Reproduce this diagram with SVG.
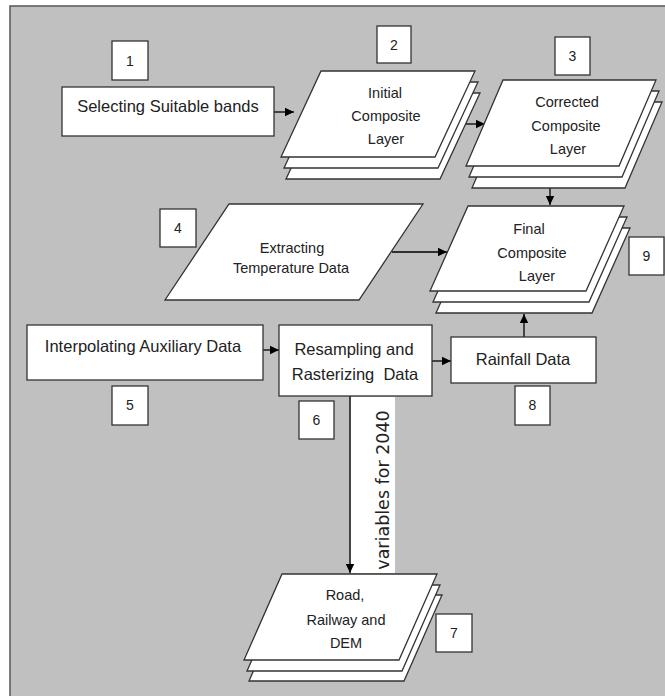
<svg xmlns="http://www.w3.org/2000/svg" xmlns:xlink="http://www.w3.org/1999/xlink" width="665" height="696" viewBox="0 0 665 696">
<style>
.bg{fill:#c0c0c0;stroke:#555;stroke-width:1.5}
.box{fill:#fff;stroke:#333;stroke-width:1.3}
.sheet{fill:#fff;stroke:#333;stroke-width:1.3;stroke-linejoin:miter}
.lbl{font-family:"Liberation Sans",Arial,sans-serif;font-size:16.5px;fill:#222;text-anchor:middle}
.pl{font-family:"Liberation Sans",Arial,sans-serif;font-size:14.5px;fill:#222;text-anchor:middle}
.num{font-family:"Liberation Sans",Arial,sans-serif;font-size:14px;fill:#222;text-anchor:middle}
.vt{font-family:"DejaVu Sans",Verdana,sans-serif;font-size:17.5px;fill:#222;text-anchor:middle}
.con{stroke:#000;stroke-width:1.3;fill:none;marker-end:url(#ah)}
</style>
<defs>
<marker id="ah" markerUnits="userSpaceOnUse" markerWidth="10" markerHeight="10" refX="9" refY="5" orient="auto">
<path d="M0,0.8 L9,5 L0,9.2 Z" fill="#000"/>
</marker>
</defs>
<rect width="665" height="696" fill="#fff"/>
<rect class="bg" x="10" y="6" width="670" height="700"/>

<g id="connectors">
<line class="con" x1="274" y1="112" x2="294" y2="112"/>
<line class="con" x1="466" y1="124" x2="485" y2="124"/>
<line class="con" x1="550" y1="188" x2="550" y2="205"/>
<line class="con" x1="392" y1="252" x2="447" y2="252"/>
<line class="con" x1="263" y1="350" x2="279" y2="350"/>
<line class="con" x1="432" y1="361" x2="451" y2="361"/>
<line class="con" x1="524" y1="337" x2="524" y2="314"/>
<rect x="351" y="397" width="44" height="176" fill="#fff"/>
<line class="con" x1="350" y1="396" x2="350" y2="573"/>
<text class="vt" transform="translate(389,490) rotate(-90)">variables for 2040</text>
</g>

<g id="n1">
<rect class="box" x="62" y="87" width="212" height="49"/>
<text class="lbl" x="168" y="112">Selecting Suitable bands</text>
<rect class="box" x="112" y="41" width="36" height="39"/>
<text class="num" x="130" y="66">1</text>
</g>

<g id="n2">
<polygon class="sheet" transform="translate(5,22)" points="321,71 475,71 435,157 281,157"/>
<polygon class="sheet" transform="translate(3,11)" points="321,71 475,71 435,157 281,157"/>
<polygon class="sheet" points="321,71 475,71 435,157 281,157"/>
<text class="pl" x="385" y="98">Initial</text>
<text class="pl" x="386" y="121">Composite</text>
<text class="pl" x="386" y="144">Layer</text>
<rect class="box" x="377" y="26" width="34" height="37"/>
<text class="num" x="394" y="50">2</text>
</g>

<g id="n3">
<polygon class="sheet" transform="translate(6,22)" points="503,80 656,80 619,166 466,166"/>
<polygon class="sheet" transform="translate(3,11)" points="503,80 656,80 619,166 466,166"/>
<polygon class="sheet" points="503,80 656,80 619,166 466,166"/>
<text class="pl" x="567" y="107">Corrected</text>
<text class="pl" x="566" y="131">Composite</text>
<text class="pl" x="568" y="154">Layer</text>
<rect class="box" x="555" y="37" width="35" height="38"/>
<text class="num" x="572.5" y="61">3</text>
</g>

<g id="n4">
<polygon class="sheet" points="229,204 423,204 359,300 165,300"/>
<text class="pl" x="292" y="253">Extracting</text>
<text class="pl" x="291" y="273">Temperature Data</text>
<rect class="box" x="160" y="209" width="36" height="38"/>
<text class="num" x="178" y="233">4</text>
</g>

<g id="n9">
<polygon class="sheet" transform="translate(6,22)" points="468,206 624,206 586,291 430,291"/>
<polygon class="sheet" transform="translate(3,11)" points="468,206 624,206 586,291 430,291"/>
<polygon class="sheet" points="468,206 624,206 586,291 430,291"/>
<text class="pl" x="529" y="234">Final</text>
<text class="pl" x="532" y="258">Composite</text>
<text class="pl" x="537" y="281">Layer</text>
<rect class="box" x="629" y="237" width="35" height="38"/>
<text class="num" x="646.5" y="261">9</text>
</g>

<g id="n5">
<rect class="box" x="27" y="325" width="236" height="55"/>
<text class="lbl" x="143" y="352">Interpolating Auxiliary Data</text>
<rect class="box" x="112" y="386" width="36" height="39"/>
<text class="num" x="130" y="410">5</text>
</g>

<g id="n6">
<rect class="box" x="279" y="325" width="153" height="71"/>
<text class="lbl" x="354" y="355">Resampling and</text>
<text class="lbl" x="355" y="380" xml:space="preserve">Rasterizing  Data</text>
<rect class="box" x="299" y="401" width="35" height="38"/>
<text class="num" x="316.5" y="425">6</text>
</g>

<g id="n8">
<rect class="box" x="451" y="337" width="145" height="46"/>
<text class="lbl" x="523" y="365">Rainfall Data</text>
<rect class="box" x="515" y="386" width="35" height="39"/>
<text class="num" x="532.5" y="410">8</text>
</g>

<g id="n7">
<polygon class="sheet" transform="translate(5,21)" points="282,574 437,574 399,660 244,660"/>
<polygon class="sheet" transform="translate(3,11)" points="282,574 437,574 399,660 244,660"/>
<polygon class="sheet" points="282,574 437,574 399,660 244,660"/>
<text class="pl" x="345" y="600">Road,</text>
<text class="pl" x="346" y="625">Railway and</text>
<text class="pl" x="346" y="648">DEM</text>
<rect class="box" x="436" y="614" width="36" height="38"/>
<text class="num" x="454" y="638">7</text>
</g>
</svg>
